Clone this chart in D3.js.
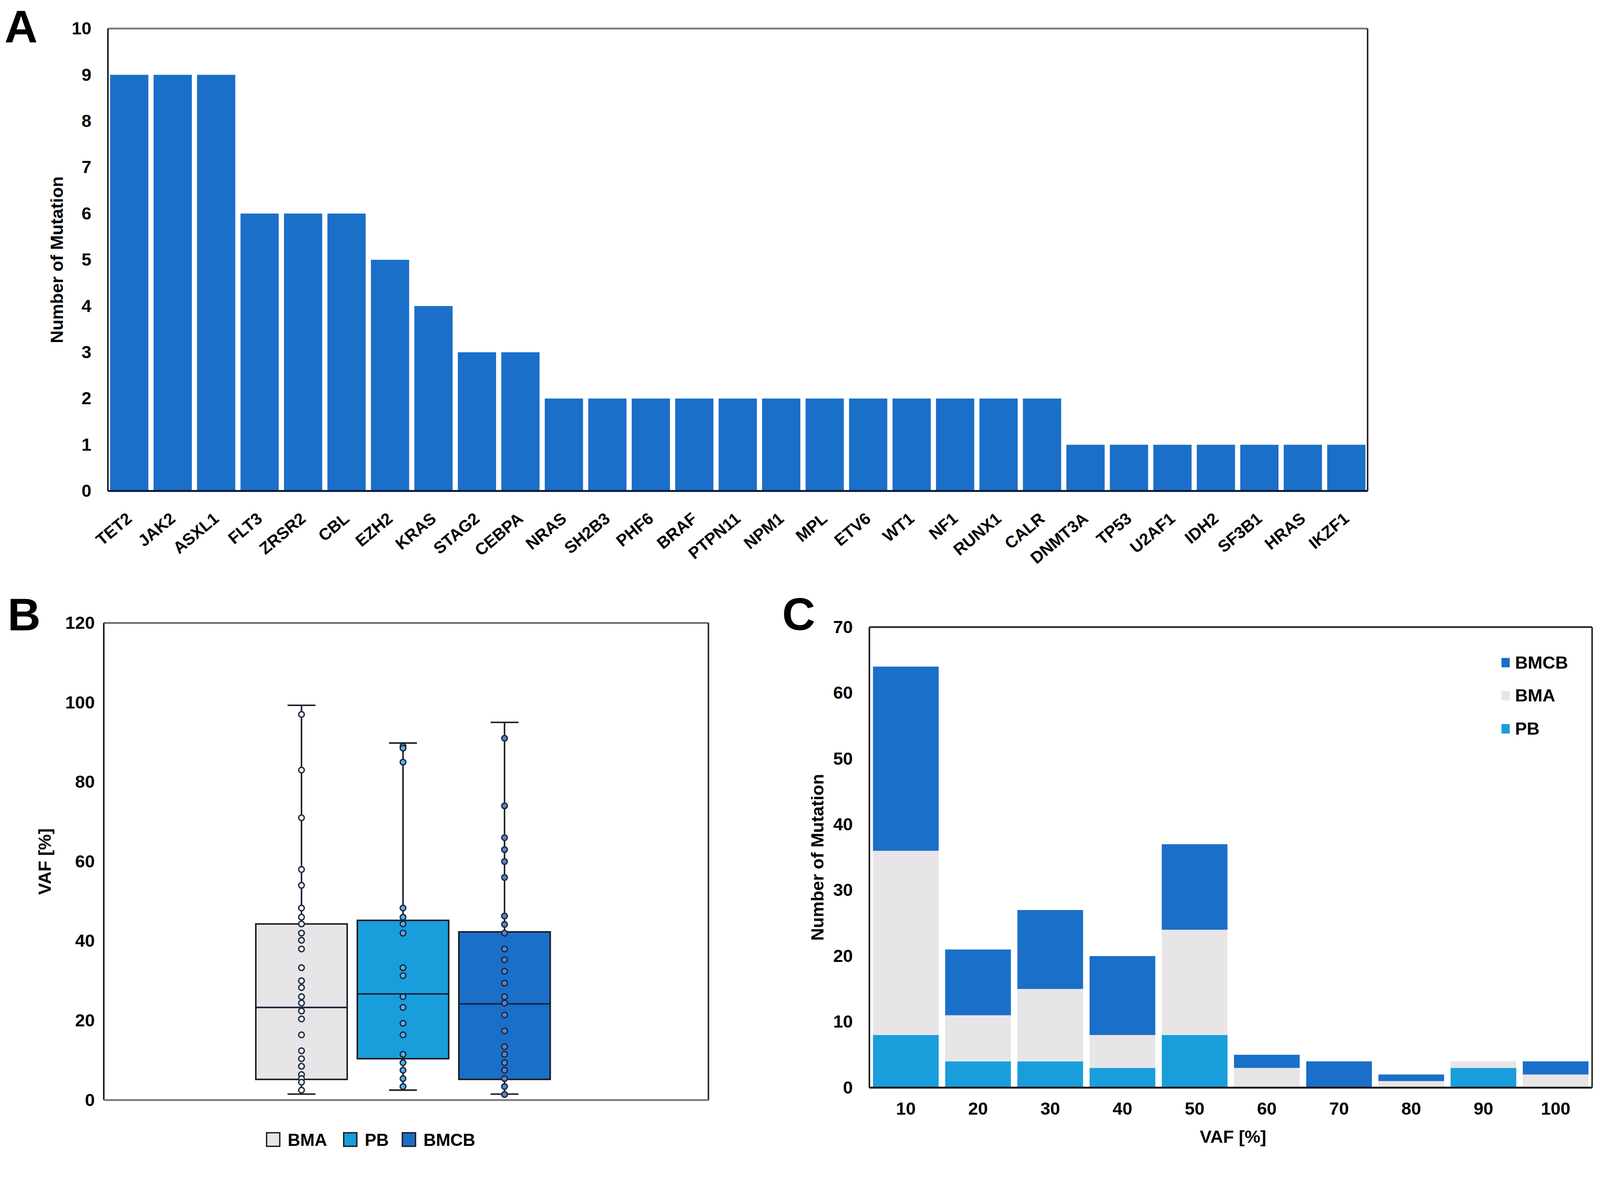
<!DOCTYPE html>
<html>
<head>
<meta charset="utf-8">
<script src="https://cdn.jsdelivr.net/npm/d3@7"></script>
<style>
  html, body { margin: 0; padding: 0; background: #fff; overflow: hidden; }
  svg { display: block; }
  text { font-family: "Liberation Sans", Arial, sans-serif; font-weight: bold; fill: #000; }
</style>
</head>
<body>
<script>
// ---- data ----
// A: mutation counts per gene
var genes = ['TET2', 'JAK2', 'ASXL1', 'FLT3', 'ZRSR2', 'CBL', 'EZH2', 'KRAS', 'STAG2', 'CEBPA',
    'NRAS', 'SH2B3', 'PHF6', 'BRAF', 'PTPN11', 'NPM1', 'MPL', 'ETV6', 'WT1', 'NF1', 'RUNX1', 'CALR',
    'DNMT3A', 'TP53', 'U2AF1', 'IDH2', 'SF3B1', 'HRAS', 'IKZF1'];
var geneCounts = [9, 9, 9, 6, 6, 6, 5, 4, 3, 3, 2, 2, 2, 2, 2, 2, 2, 2, 2, 2, 2, 2, 1, 1, 1, 1, 1, 1, 1];
var countTicks = [0, 1, 2, 3, 4, 5, 6, 7, 8, 9, 10];

// B: VAF box plots
var sampleTypes = ['BMA', 'PB', 'BMCB'];
var whiskerLow = [1.5, 2.5, 1.5];
var quart1 = [5.2, 10.4, 5.2];
var medians = [23.3, 26.7, 24.2];
var quart3 = [44.3, 45.2, 42.3];
var whiskerHigh = [99.3, 89.8, 95.0];
var vafBMA = [97, 83, 71, 58, 54, 48.3, 46, 44.3, 42, 40.2, 38, 33.3, 30, 28.3, 26, 24.4, 22.4, 20.4,
    16.4, 12.4, 10.4, 8.5, 6.4, 5.4, 4.5, 2.5];
var vafPB = [89, 88.5, 85, 48.3, 46, 44.3, 42, 33.3, 31.3, 26, 23.3, 19.3, 16.4, 11.5, 9.4, 7.5, 5.4, 3.4];
var vafBMCB = [91, 74, 66, 63, 60, 56, 46.3, 44.2, 42, 38, 35.3, 32.4, 29.4, 26, 24.4, 21.4, 17.4,
    13.4, 11.5, 9.4, 7.5, 5.4, 3.4, 1.4];
var vafTicks = [0, 20, 40, 60, 80, 100, 120];

// C: stacked histogram of VAF bins
var vafBins = ['10', '20', '30', '40', '50', '60', '70', '80', '90', '100'];
var binPB = [8, 4, 4, 3, 8, 0, 0, 0, 3, 0];
var binBMA = [28, 7, 11, 5, 16, 3, 0, 1, 1, 2];
var binBMCB = [28, 10, 12, 12, 13, 2, 4, 1, 0, 2];
var histTicks = [0, 10, 20, 30, 40, 50, 60, 70];

var colors = {
    BMA: '#e7e5e7',
    PB: '#1a9ddb',
    BMCB: '#1a6fc9'
};
var dotFill = { BMA: '#f2f2f2', PB: '#55b2e2', BMCB: '#5b85c4' };
var fontSize = 47;

var W = 4255, H = 3070;
var svg = d3.select('body').append('svg')
    .attr('viewBox', '0 0 ' + W + ' ' + H)
    .attr('preserveAspectRatio', 'xMinYMin meet')
    .style('width', '100vw')
    .style('height', '100vh');
svg.append('rect').attr('width', W).attr('height', H).attr('fill', '#fff');

function frame(g, w, h, topColor, bottomColor) {
    g.append('line').attr('x1', 0).attr('x2', w).attr('y1', 0).attr('y2', 0)
        .attr('stroke', topColor).attr('stroke-width', 5);
    g.append('line').attr('x1', 0).attr('x2', 0).attr('y1', 0).attr('y2', h)
        .attr('stroke', '#111').attr('stroke-width', 4);
    g.append('line').attr('x1', w).attr('x2', w).attr('y1', 0).attr('y2', h)
        .attr('stroke', '#222').attr('stroke-width', 4);
    g.append('line').attr('x1', 0).attr('x2', w).attr('y1', h).attr('y2', h)
        .attr('stroke', bottomColor).attr('stroke-width', 5);
}

function yAxis(g, scale, ticks, pad) {
    var ax = g.append('g')
        .call(d3.axisLeft(scale).tickValues(ticks).tickSize(0).tickPadding(pad));
    ax.select('.domain').remove();
    ax.selectAll('text').style('font-size', fontSize + 'px');
}

// ================= A =================
var A = { left: 287, top: 76, right: 3637, bottom: 1306 };
var gA = svg.append('g').attr('transform', 'translate(' + A.left + ',' + A.top + ')');
var wA = A.right - A.left, hA = A.bottom - A.top;

var xA = d3.scaleBand().domain(genes).range([0, wA]).paddingInner(0.12).paddingOuter(0.05);
var yA = d3.scaleLinear().domain([0, 10]).range([hA, 0]);

gA.selectAll('rect.bar').data(genes).enter().append('rect')
    .attr('class', 'bar')
    .attr('x', function(d) { return xA(d); })
    .attr('width', xA.bandwidth())
    .attr('y', function(d, i) { return yA(geneCounts[i]); })
    .attr('height', function(d, i) { return hA - yA(geneCounts[i]); })
    .attr('fill', colors.BMCB);

frame(gA, wA, hA, '#7a7a7a', '#0a1030');
yAxis(gA, yA, countTicks, 44);

gA.selectAll('text.gene').data(genes).enter().append('text')
    .attr('class', 'gene')
    .attr('text-anchor', 'end')
    .attr('transform', function(d) {
        return 'translate(' + (xA(d) + xA.bandwidth() / 2 + 10) + ',' + (hA + 78) + ') rotate(-40)';
    })
    .style('font-size', '44px')
    .text(function(d) { return d; });

gA.append('text')
    .attr('transform', 'translate(-120,' + (hA / 2) + ') rotate(-90)')
    .attr('text-anchor', 'middle')
    .style('font-size', fontSize + 'px')
    .text('Number of Mutation');

svg.append('text').attr('x', 12).attr('y', 113).style('font-size', '122px').text('A');

// ================= B =================
var B = { left: 276, top: 1657, right: 1884, bottom: 2926 };
var gB = svg.append('g').attr('transform', 'translate(' + B.left + ',' + B.top + ')');
var wB = B.right - B.left, hB = B.bottom - B.top;

var xB = d3.scaleBand().domain(sampleTypes).range([0, wB])
    .paddingInner(0.1).paddingOuter(1.528).align(0.49);
var yB = d3.scaleLinear().domain([0, 120]).range([hB, 0]);
var vafDots = [vafBMA, vafPB, vafBMCB];

frame(gB, wB, hB, '#6f6f6f', '#7a7a7a');
yAxis(gB, yB, vafTicks, 24);

sampleTypes.forEach(function(s, i) {
    var cx = xB(s) + xB.bandwidth() / 2;
    var capW = 74;
    var g = gB.append('g');
    g.append('line').attr('x1', cx).attr('x2', cx)
        .attr('y1', yB(whiskerLow[i])).attr('y2', yB(whiskerHigh[i]))
        .attr('stroke', '#1a1a1a').attr('stroke-width', 4);
    [whiskerLow[i], whiskerHigh[i]].forEach(function(v) {
        g.append('line').attr('x1', cx - capW / 2).attr('x2', cx + capW / 2)
            .attr('y1', yB(v)).attr('y2', yB(v))
            .attr('stroke', '#1a1a1a').attr('stroke-width', 4);
    });
    g.append('rect')
        .attr('x', xB(s)).attr('width', xB.bandwidth())
        .attr('y', yB(quart3[i])).attr('height', yB(quart1[i]) - yB(quart3[i]))
        .attr('fill', colors[s]).attr('stroke', '#1a1a1a').attr('stroke-width', 4);
    g.append('line').attr('x1', xB(s)).attr('x2', xB(s) + xB.bandwidth())
        .attr('y1', yB(medians[i])).attr('y2', yB(medians[i]))
        .attr('stroke', '#14203a').attr('stroke-width', 4);
    g.selectAll('circle').data(vafDots[i]).enter().append('circle')
        .attr('cx', cx)
        .attr('cy', function(d) { return yB(d); })
        .attr('r', 7.5)
        .attr('fill', dotFill[s])
        .attr('stroke', '#1b2540')
        .attr('stroke-width', 3.5);
});

gB.append('text')
    .attr('transform', 'translate(-141,' + (hB / 2) + ') rotate(-90)')
    .attr('text-anchor', 'middle')
    .style('font-size', fontSize + 'px')
    .text('VAF [%]');

// legend under B
var legB = svg.append('g').attr('transform', 'translate(709,3013)');
var legBx = [0, 205, 361];
sampleTypes.forEach(function(s, i) {
    legB.append('rect').attr('x', legBx[i]).attr('y', 0).attr('width', 35).attr('height', 36)
        .attr('fill', colors[s]).attr('stroke', '#1a1a1a').attr('stroke-width', 3.5);
    legB.append('text').attr('x', legBx[i] + 56).attr('y', 35)
        .style('font-size', '46px').text(s);
});

svg.append('text').attr('x', 20).attr('y', 1677).style('font-size', '122px').text('B');

// ================= C =================
var C = { left: 2312, top: 1668, right: 4234, bottom: 2893 };
var gC = svg.append('g').attr('transform', 'translate(' + C.left + ',' + C.top + ')');
var wC = C.right - C.left, hC = C.bottom - C.top;

var xC = d3.scaleBand().domain(vafBins).range([0, wC]).paddingInner(0.09).paddingOuter(0.05);
var yC = d3.scaleLinear().domain([0, 70]).range([hC, 0]);

var histRows = vafBins.map(function(b, i) {
    return { bin: b, PB: binPB[i], BMA: binBMA[i], BMCB: binBMCB[i] };
});
var stackKeys = ['PB', 'BMA', 'BMCB'];
var layers = d3.stack().keys(stackKeys)(histRows);

gC.selectAll('g.layer').data(layers).enter().append('g')
    .attr('class', 'layer')
    .attr('fill', function(d) { return colors[d.key]; })
    .selectAll('rect').data(function(d) { return d; }).enter().append('rect')
    .attr('x', function(d) { return xC(d.data.bin); })
    .attr('width', xC.bandwidth())
    .attr('y', function(d) { return yC(d[1]); })
    .attr('height', function(d) { return yC(d[0]) - yC(d[1]); });

frame(gC, wC, hC, '#333', '#111');
yAxis(gC, yC, histTicks, 44);

var axC = gC.append('g').attr('transform', 'translate(0,' + hC + ')')
    .call(d3.axisBottom(xC).tickSize(0).tickPadding(38));
axC.select('.domain').remove();
axC.selectAll('text').style('font-size', fontSize + 'px');

gC.append('text')
    .attr('x', 3279 - C.left).attr('y', 3040 - C.top)
    .attr('text-anchor', 'middle')
    .style('font-size', fontSize + 'px')
    .text('VAF [%]');

gC.append('text')
    .attr('transform', 'translate(-122,' + (hC / 2) + ') rotate(-90)')
    .attr('text-anchor', 'middle')
    .style('font-size', fontSize + 'px')
    .text('Number of Mutation');

// legend inside C
var legC = gC.append('g').attr('transform', 'translate(' + (3993 - C.left) + ',' + (1750 - C.top) + ')');
['BMCB', 'BMA', 'PB'].forEach(function(s, i) {
    legC.append('rect').attr('x', 0).attr('y', i * 88).attr('width', 22).attr('height', 25)
        .attr('fill', colors[s]);
    legC.append('text').attr('x', 36).attr('y', i * 88 + 28)
        .style('font-size', fontSize + 'px').text(s);
});

svg.append('text').attr('x', 2080).attr('y', 1676).style('font-size', '122px').text('C');
</script>
</body>
</html>
